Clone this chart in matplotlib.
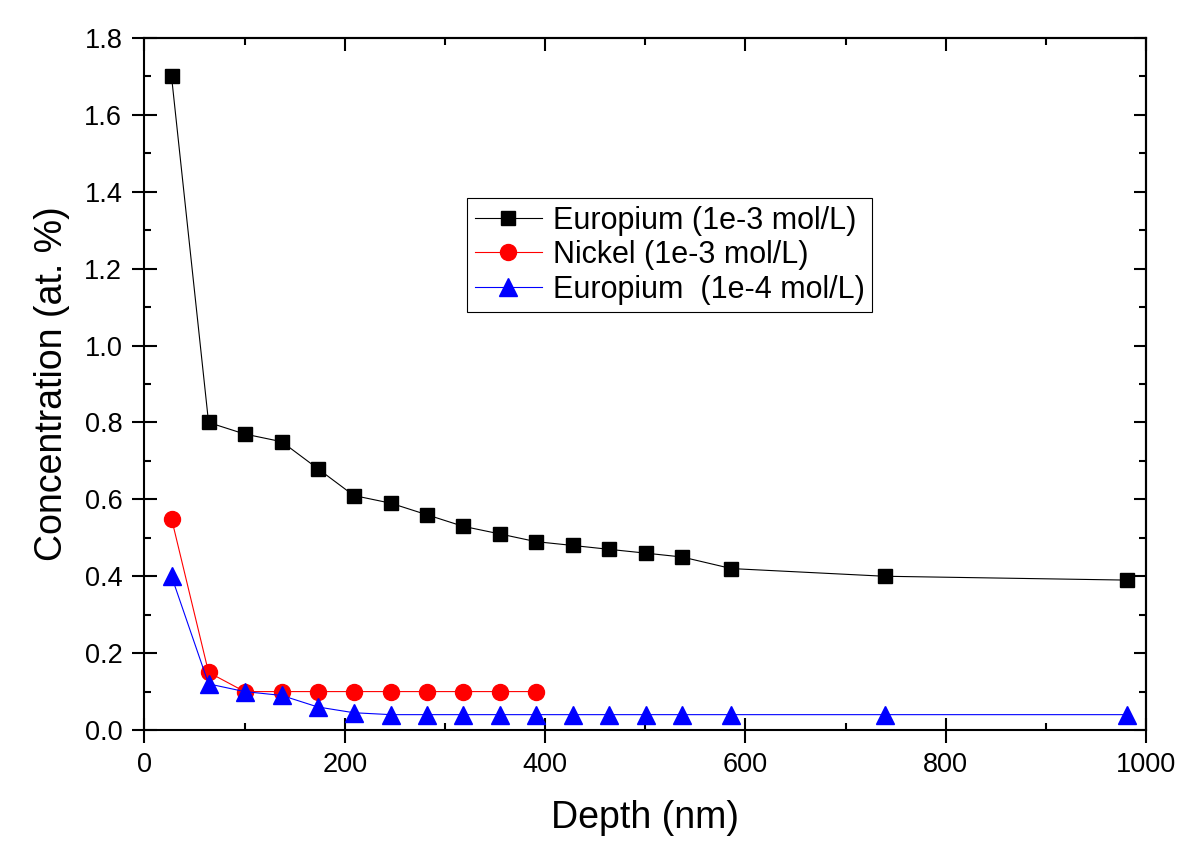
import matplotlib
matplotlib.use("Agg")
import matplotlib.pyplot as plt
from matplotlib.ticker import MultipleLocator

plt.rcParams['font.family'] = ['Liberation Sans', 'DejaVu Sans']

# depth (nm) of each measured point
depth_eu3 = [27, 64, 100, 137, 173, 209, 246, 282, 318, 355, 391, 428, 464, 501, 537, 586, 739, 981]
conc_eu3 = [1.70, 0.80, 0.77, 0.75, 0.68, 0.61, 0.59, 0.56, 0.53, 0.51, 0.49, 0.48, 0.47, 0.46, 0.45, 0.42, 0.40, 0.39]

depth_ni3 = [27, 64, 100, 137, 173, 209, 246, 282, 318, 355, 391]
conc_ni3 = [0.55, 0.15, 0.10, 0.10, 0.10, 0.10, 0.10, 0.10, 0.10, 0.10, 0.10]

depth_eu4 = [27, 64, 100, 137, 173, 209, 246, 282, 318, 355, 391, 428, 464, 501, 537, 586, 739, 981]
conc_eu4 = [0.40, 0.12, 0.10, 0.09, 0.06, 0.045, 0.04, 0.04, 0.04, 0.04, 0.04, 0.04, 0.04, 0.04, 0.04, 0.04, 0.04, 0.04]

labels = ["Europium (1e-3 mol/L)", "Nickel (1e-3 mol/L)", "Europium  (1e-4 mol/L)"]

fig = plt.figure(figsize=(12.03, 8.47), dpi=100)
ax = fig.add_axes([0.1201, 0.1381, 0.8325, 0.8170])

ax.plot(depth_eu3, conc_eu3, color='black', lw=0.8, marker='s', ms=10, label=labels[0])
ax.plot(depth_ni3, conc_ni3, color='red', lw=0.8, marker='o', ms=11.5, label=labels[1])
ax.plot(depth_eu4, conc_eu4, color='blue', lw=0.8, marker='^', ms=12.5, label=labels[2])

ax.set_xlim(0, 1000)
ax.set_ylim(0, 1.8)
ax.xaxis.set_major_locator(MultipleLocator(200))
ax.xaxis.set_minor_locator(MultipleLocator(100))
ax.yaxis.set_major_locator(MultipleLocator(0.2))
ax.yaxis.set_minor_locator(MultipleLocator(0.1))
ax.yaxis.set_major_formatter(lambda v, p: "%.1f" % v)

for s in ax.spines.values():
    s.set_linewidth(1.5)

ax.tick_params(which='major', direction='inout', length=18, width=1.5, labelsize=19.5, pad=7)
ax.tick_params(which='minor', direction='in', length=5, width=1.5)

# top and right ticks point inward, no labels
top = ax.secondary_xaxis('top')
top.xaxis.set_major_locator(MultipleLocator(200))
top.xaxis.set_minor_locator(MultipleLocator(100))
top.tick_params(which='major', direction='in', length=9, width=1.5, labeltop=False)
top.tick_params(which='minor', direction='in', length=5, width=1.5)
right = ax.secondary_yaxis('right')
right.yaxis.set_major_locator(MultipleLocator(0.2))
right.yaxis.set_minor_locator(MultipleLocator(0.1))
right.tick_params(which='major', direction='in', length=9, width=1.5, labelright=False)
right.tick_params(which='minor', direction='in', length=5, width=1.5)
for sa in (top, right):
    for s in sa.spines.values():
        s.set_linewidth(1.5)

ax.set_xlabel("Depth (nm)", fontsize=27, labelpad=16)
ax.set_ylabel("Concentration (at. %)", fontsize=27, labelpad=10)

leg = ax.legend(loc='upper left', bbox_to_anchor=(0.322, 0.769), fontsize=22,
                frameon=True, fancybox=False, framealpha=1, edgecolor='black',
                handlelength=2.2, handletextpad=0.35, labelspacing=0.15,
                borderpad=0.25, borderaxespad=0)
leg.get_frame().set_linewidth(0.8)

fig.savefig("out.png", dpi=100)
